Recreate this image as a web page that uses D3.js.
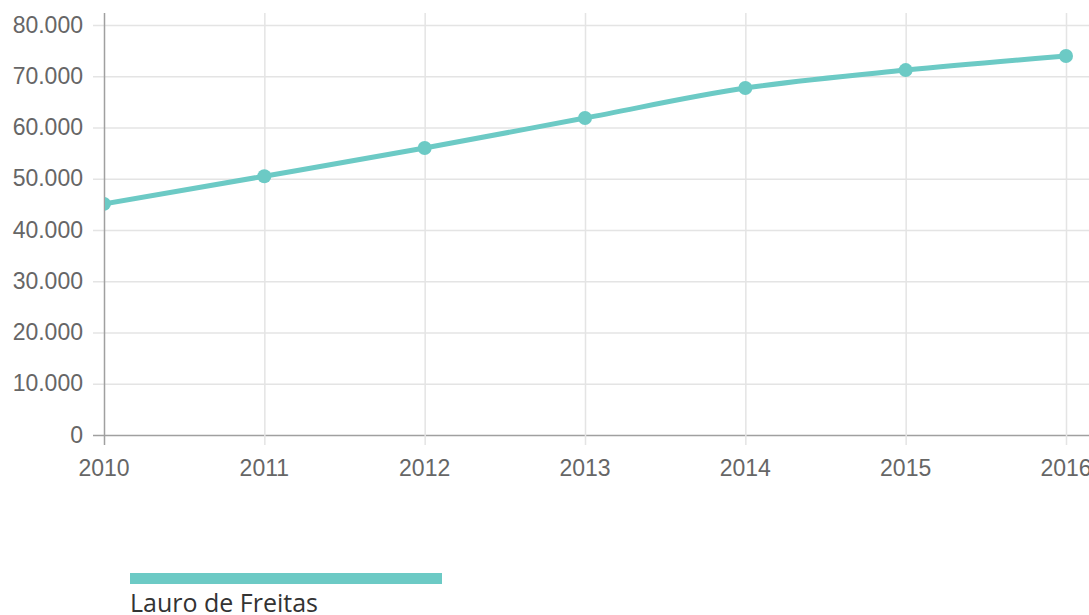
<!DOCTYPE html>
<html>
<head>
<meta charset="utf-8">
<script src="https://cdn.jsdelivr.net/npm/d3@7"></script>
<style>
    html, body { margin: 0; padding: 0; background: #fff; overflow: hidden; }
    svg { display: block; }
    .axis text { font-family: "Liberation Sans", Arial, sans-serif; font-size: 23px; fill: #666; }
    .legend text { font-family: "Open Sans", sans-serif; font-size: 25px; fill: #333; }
</style>
</head>
<body>
<div class="graph"></div>
<script>
const years = [2010, 2011, 2012, 2013, 2014, 2015, 2016];
const populacao = [45100, 50500, 56000, 61850, 67700, 71200, 73950];
const yTicks = [0, 10000, 20000, 30000, 40000, 50000, 60000, 70000, 80000];
const seriesName = 'Lauro de Freitas';

var width = 1089,
    height = 615,
    color = '#6ccac5';

var x = d3.scaleLinear()
    .domain([2010, 2016])
    .range([104, 1066]);

var y = d3.scaleLinear()
    .domain([0, 80000])
    .range([435, 25]);

var fmt = function (d) {
    return d3.format(',')(d).replace(/,/g, '.');
};

var svg = d3.select('.graph').append('svg')
    .attr('width', width)
    .attr('height', height);

// grid
var grid = svg.append('g');
grid.selectAll('.hgrid')
    .data(yTicks)
    .enter().append('line')
    .attr('x1', 93).attr('x2', width)
    .attr('y1', function (d) { return y(d) + 0.5 })
    .attr('y2', function (d) { return y(d) + 0.5 })
    .style('stroke', function (d) { return d === 0 ? '#a0a0a0' : '#e4e4e4' })
    .style('stroke-width', 1.5);

grid.selectAll('.vgrid')
    .data(years)
    .enter().append('line')
    .attr('x1', function (d) { return x(d) + 0.5 })
    .attr('x2', function (d) { return x(d) + 0.5 })
    .attr('y1', 13).attr('y2', 445)
    .style('stroke', function (d) { return d === 2010 ? '#a0a0a0' : '#e4e4e4' })
    .style('stroke-width', 1.5);

// y labels
var yAxis = svg.append('g').attr('class', 'axis');
yAxis.selectAll('text')
    .data(yTicks)
    .enter().append('text')
    .attr('x', 83)
    .attr('y', function (d) { return y(d) })
    .attr('dy', '0.33em')
    .attr('text-anchor', 'end')
    .text(fmt);

// x labels
var xAxis = svg.append('g').attr('class', 'axis');
xAxis.selectAll('text')
    .data(years)
    .enter().append('text')
    .attr('x', function (d) { return x(d) })
    .attr('y', 476)
    .attr('text-anchor', 'middle')
    .text(function (d) { return d });

// clip to plot area
svg.append('clipPath').attr('id', 'plot')
    .append('rect')
    .attr('x', 105).attr('y', 0)
    .attr('width', width - 105).attr('height', 436);

var data = years.map(function (d, i) { return [d, populacao[i]] });

var line = d3.line()
    .x(function (d) { return x(d[0]) })
    .y(function (d) { return y(d[1]) })
    .curve(d3.curveMonotoneX);

var plot = svg.append('g').attr('clip-path', 'url(#plot)');
plot.append('path')
    .datum(data)
    .attr('d', line)
    .style('fill', 'none')
    .style('stroke', color)
    .style('stroke-width', 5);

plot.selectAll('circle')
    .data(data)
    .enter().append('circle')
    .attr('cx', function (d) { return x(d[0]) })
    .attr('cy', function (d) { return y(d[1]) })
    .attr('r', 7)
    .style('fill', color);

// legend
var legend = svg.append('g').attr('class', 'legend');
legend.append('rect')
    .attr('x', 130).attr('y', 573)
    .attr('width', 312).attr('height', 11)
    .style('fill', color);
legend.append('text')
    .attr('x', 130).attr('y', 612)
    .text(seriesName);
</script>
</body>
</html>
